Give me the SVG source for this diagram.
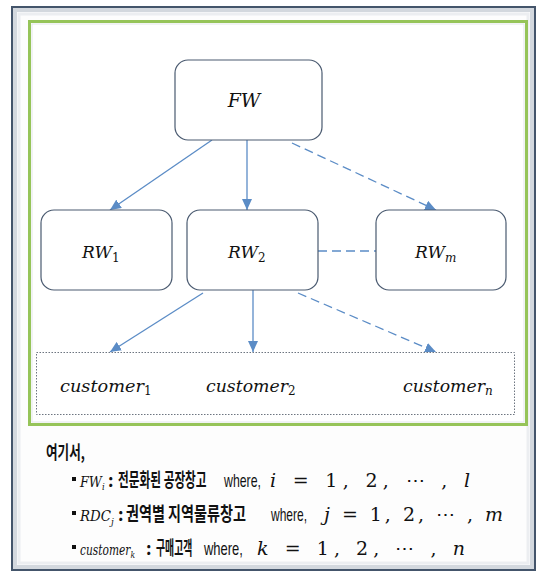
<svg xmlns="http://www.w3.org/2000/svg" width="538" height="576" viewBox="0 0 538 576">
<style>
.box{fill:#fff;stroke:#4a5a70;stroke-width:1.2}
.ln{stroke:#5b8cc6;stroke-width:1.3;fill:none}
.dash{stroke-dasharray:9 5}
.m{font-family:"DejaVu Serif","Liberation Serif",serif;font-style:italic;fill:#111}
.r{font-style:normal}
.ko{font-family:"Noto Sans CJK KR","Noto Sans",sans-serif;font-weight:bold;fill:#111}
.en{font-family:"Liberation Sans","Arial",sans-serif;fill:#111}
</style>
<defs>
<marker id="ah" markerUnits="userSpaceOnUse" markerWidth="12" markerHeight="10" refX="11" refY="5" orient="auto">
<path d="M0,0 L11,5 L0,10 Z" fill="#5b8cc6"/>
</marker>
</defs>
<rect x="0" y="0" width="538" height="576" fill="#ffffff"/>
<!-- outer frame -->
<rect x="12" y="7" width="523" height="563" fill="#fdfdfd" stroke="#44556b" stroke-width="2"/>
<rect x="15" y="10" width="517" height="557" fill="none" stroke="#d3d8de" stroke-width="4"/>
<rect x="19" y="14" width="509" height="549" fill="none" stroke="#eceef1" stroke-width="3"/>
<!-- green frame -->
<rect x="29.5" y="21.5" width="497" height="403" fill="#ffffff" stroke="#96c459" stroke-width="3"/>
<rect x="32" y="24" width="492" height="398" fill="none" stroke="#e3e7ea" stroke-width="1"/>

<g id="connectors">
<line class="ln" x1="212" y1="140" x2="110" y2="210" marker-end="url(#ah)"/>
<line class="ln" x1="247" y1="140" x2="247" y2="210" marker-end="url(#ah)"/>
<line class="ln dash" x1="292" y1="143" x2="436" y2="210" marker-end="url(#ah)"/>
<line class="ln dash" x1="318" y1="251" x2="376" y2="251"/>
<line class="ln" x1="203" y1="293" x2="110" y2="352" marker-end="url(#ah)"/>
<line class="ln" x1="253" y1="290" x2="253" y2="352" marker-end="url(#ah)"/>
<line class="ln dash" x1="298" y1="293" x2="436" y2="352" marker-end="url(#ah)"/>
<line class="ln dash" x1="326" y1="387" x2="381" y2="387"/>
</g>

<g id="FW">
<rect class="box" x="175" y="60" width="147" height="80" rx="13"/>
<text class="m" x="244" y="107" font-size="19" text-anchor="middle">FW</text>
</g>
<g id="RW1">
<rect class="box" x="41" y="210" width="131" height="80" rx="13"/>
<text class="m" x="82" y="258" font-size="17">RW<tspan class="r" font-size="12" dy="4">1</tspan></text>
</g>
<g id="RW2">
<rect class="box" x="187" y="210" width="131" height="80" rx="13"/>
<text class="m" x="228" y="258" font-size="17">RW<tspan class="r" font-size="12" dy="4">2</tspan></text>
</g>
<g id="RWm">
<rect class="box" x="376" y="210" width="130" height="80" rx="13"/>
<text class="m" x="415" y="258" font-size="17">RW<tspan font-size="12" dy="4">m</tspan></text>
</g>
<g id="customers">
<rect x="36.5" y="352.5" width="478" height="62" fill="#ffffff" stroke="#6d7580" stroke-width="1" stroke-dasharray="1.5 1.5"/>
<text class="m" x="60" y="392" font-size="17"><tspan textLength="84" lengthAdjust="spacingAndGlyphs">customer</tspan><tspan class="r" font-size="12" dy="3">1</tspan></text>
<text class="m" x="206" y="392" font-size="17"><tspan textLength="82" lengthAdjust="spacingAndGlyphs">customer</tspan><tspan class="r" font-size="12" dy="3">2</tspan></text>
<text class="m" x="403" y="392" font-size="17"><tspan textLength="82" lengthAdjust="spacingAndGlyphs">customer</tspan><tspan font-size="12" dy="3">n</tspan></text>
</g>

<g id="legend">
<text class="ko" transform="translate(46,459) scale(0.7,1)" font-size="18">여기서,</text>

<rect x="72" y="477" width="4" height="4" fill="#111"/>
<text class="m" transform="translate(80,487) scale(0.85,1)" font-size="15">FW<tspan font-size="10" dy="3">i</tspan></text>
<text class="ko" x="108" y="487" font-size="17">:</text>
<text class="ko" transform="translate(118,487) scale(0.615,1)" font-size="19">전문화된 공장창고</text>
<text class="en" transform="translate(224,487) scale(0.685,1)" font-size="18">where,</text>
<text class="m" x="270" y="487" font-size="19" textLength="200" lengthAdjust="spacing">i<tspan class="r"> = 1, 2, ⋯ , </tspan>l</text>

<rect x="72" y="511" width="4" height="4" fill="#111"/>
<text class="m" transform="translate(80,521) scale(0.89,1)" font-size="15">RDC<tspan font-size="10" dy="4">j</tspan></text>
<text class="ko" x="118" y="521" font-size="17">:</text>
<text class="ko" transform="translate(126,521) scale(0.743,1)" font-size="19">권역별 지역물류창고</text>
<text class="en" transform="translate(271,521) scale(0.667,1)" font-size="18">where,</text>
<text class="m" x="324" y="521" font-size="19" textLength="179" lengthAdjust="spacing">j<tspan class="r"> = 1, 2, ⋯ , </tspan>m</text>

<rect x="72" y="545" width="4" height="4" fill="#111"/>
<text class="m" transform="translate(80,555) scale(0.76,1)" font-size="14">customer<tspan font-size="10" dy="3">k</tspan></text>
<text class="ko" x="146" y="555" font-size="17">:</text>
<text class="ko" transform="translate(156,555) scale(0.52,1)" font-size="19">구매고객</text>
<text class="en" transform="translate(204,555) scale(0.72,1)" font-size="18">where,</text>
<text class="m" x="257" y="555" font-size="19" textLength="208" lengthAdjust="spacing">k<tspan class="r"> = 1, 2, ⋯ , </tspan>n</text>
</g>
</svg>
